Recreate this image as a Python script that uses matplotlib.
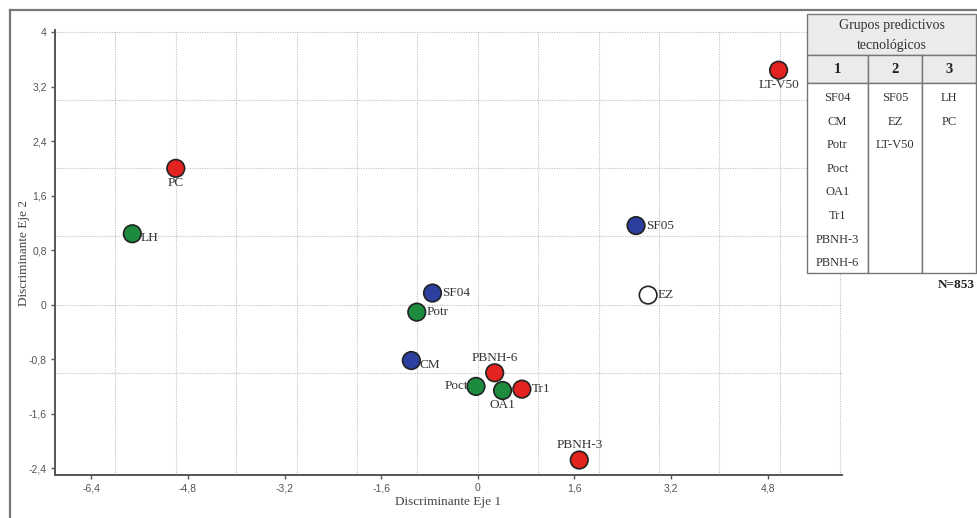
import matplotlib
matplotlib.use("Agg")
import matplotlib.pyplot as plt
from matplotlib.patches import Rectangle
from matplotlib.lines import Line2D
from matplotlib.ticker import FixedLocator, FuncFormatter

# ---------------- data ----------------
names = ["PC", "LH", "SF04", "Potr", "CM", "Poct", "PBNH-6", "OA1", "Tr1",
         "PBNH-3", "SF05", "EZ", "LT-V50"]
eje1 = [-5.00, -5.72, -0.75, -1.01, -1.10, -0.03, 0.28, 0.41, 0.73,
        1.68, 2.62, 2.82, 4.98]
eje2 = [2.00, 1.04, 0.17, -0.11, -0.82, -1.20, -1.00, -1.26, -1.24,
        -2.28, 1.16, 0.14, 3.44]
point_colors = ["red", "green", "blue", "green", "blue", "green", "red", "green", "red",
                "red", "blue", "white", "red"]
label_pos = ["below", "right_low", "right", "right", "right_low", "left", "above", "below",
             "right", "above", "right", "right", "below"]

xticks = [-6.4, -4.8, -3.2, -1.6, 0, 1.6, 3.2, 4.8]
yticks = [-2.4, -1.6, -0.8, 0, 0.8, 1.6, 2.4, 3.2, 4]

table_title = ["Grupos predictivos", "tecnológicos"]
group_headers = ["1", "2", "3"]
grupo1 = ["SF04", "CM", "Potr", "Poct", "OA1", "Tr1", "PBNH-3", "PBNH-6"]
grupo2 = ["SF05", "EZ", "LT-V50"]
grupo3 = ["LH", "PC"]
n_text = "N=853"

color_map = {"red": "#e2231f", "green": "#1c8b3e", "blue": "#2c3f9e", "white": "#ffffff"}

# ---------------- figure ----------------
W, H = 977, 518
fig = plt.figure(figsize=(W / 100, H / 100), dpi=100)

def fx(px):
    return px / W

def fy(py):
    return 1 - py / H

ax = fig.add_axes([fx(55), fy(475), fx(842) - fx(55), fy(30) - fy(475)])
ax.set_xlim(-7.0, 6.03)
ax.set_ylim(-2.5, 4.03)

# grid (dotted, at integer positions)
for gx in range(-6, 7):
    ax.axvline(gx, color="#c0c0c0", lw=0.8, ls=(0, (1, 1.2)), zorder=0)
for gy in range(-1, 5):
    ax.axhline(gy, color="#c0c0c0", lw=0.8, ls=(0, (1, 1.2)), zorder=0)

for s in ["top", "right"]:
    ax.spines[s].set_visible(False)
for s in ["left", "bottom"]:
    ax.spines[s].set_color("#555555")
    ax.spines[s].set_linewidth(1.4)

ax.xaxis.set_major_locator(FixedLocator(xticks))
ax.yaxis.set_major_locator(FixedLocator(yticks))
fmt = FuncFormatter(lambda v, p: ("%g" % round(v, 1)).replace(".", ","))
ax.xaxis.set_major_formatter(fmt)
ax.yaxis.set_major_formatter(fmt)
ax.tick_params(axis="both", length=3, width=1, color="#555555", labelsize=7.5,
               labelcolor="#555555", pad=3)
for lab in ax.get_xticklabels() + ax.get_yticklabels():
    lab.set_family("Liberation Sans")

ax.set_xlabel("Discriminante Eje 1", family="Liberation Serif", fontsize=9.5,
              color="#444444", labelpad=2)
ax.set_ylabel("Discriminante Eje 2", family="Liberation Serif", fontsize=9.5,
              color="#444444", labelpad=-1)

# points
ax.scatter(eje1, eje2, s=160, c=[color_map[c] for c in point_colors],
           edgecolors="#222222", linewidths=1.2, zorder=3, clip_on=False)

offsets = {
    "below": ((0, -10.5), "center", "center"),
    "above": ((0, 11), "center", "center"),
    "right": ((7, 0), "left", "center"),
    "right_low": ((6, -3), "left", "center"),
    "left": ((-6, 0), "right", "center"),
}
for name, x, y, pos in zip(names, eje1, eje2, label_pos):
    (dx, dy), ha, va = offsets[pos]
    ax.annotate(name, (x, y), xytext=(dx, dy), textcoords="offset points",
                ha=ha, va=va, family="Liberation Serif", fontsize=9.5,
                color="#333333", zorder=4)

# outer frame (left and top)
fig.add_artist(Line2D([fx(10), fx(10)], [fy(10), fy(517)], color="#777777", lw=1.6))
fig.add_artist(Line2D([fx(10), fx(977)], [fy(10), fy(10)], color="#777777", lw=1.6))

# ---------------- table ----------------
tl, tr = 807, 976
cols = [807, 868, 922, 976]
t_top, t_head, t_colh, t_bot = 14, 55, 83, 273
edge = "#777777"

def rect(x0, y0, x1, y1, fc):
    fig.add_artist(Rectangle((fx(x0), fy(y1)), fx(x1) - fx(x0), fy(y0) - fy(y1),
                             facecolor=fc, edgecolor=edge, lw=1.0))

rect(tl, t_top, tr, t_head, "#ebebeb")
for i in range(3):
    rect(cols[i], t_head, cols[i + 1], t_colh, "#ebebeb")
    rect(cols[i], t_colh, cols[i + 1], t_bot, "#ffffff")

fig.text(fx((tl + tr) / 2), fy(25), table_title[0], ha="center", va="center",
         family="Liberation Serif", fontsize=10, color="#333333")
fig.text(fx((tl + tr) / 2), fy(45), table_title[1], ha="center", va="center",
         family="Liberation Serif", fontsize=10, color="#333333")
for i, h in enumerate(group_headers):
    fig.text(fx((cols[i] + cols[i + 1]) / 2), fy(69), h, ha="center", va="center",
             family="Liberation Serif", fontsize=10.5, fontweight="bold", color="#222222")

row0, rowh = 98, 23.6
for i, grp in enumerate([grupo1, grupo2, grupo3]):
    for j, item in enumerate(grp):
        fig.text(fx((cols[i] + cols[i + 1]) / 2), fy(row0 + j * rowh), item,
                 ha="center", va="center", family="Liberation Serif",
                 fontsize=9, color="#333333")

fig.text(fx(975), fy(285), n_text, ha="right", va="center", family="Liberation Serif",
         fontsize=9.5, fontweight="bold", color="#222222")

fig.savefig("out.png", dpi=100, facecolor="white")
